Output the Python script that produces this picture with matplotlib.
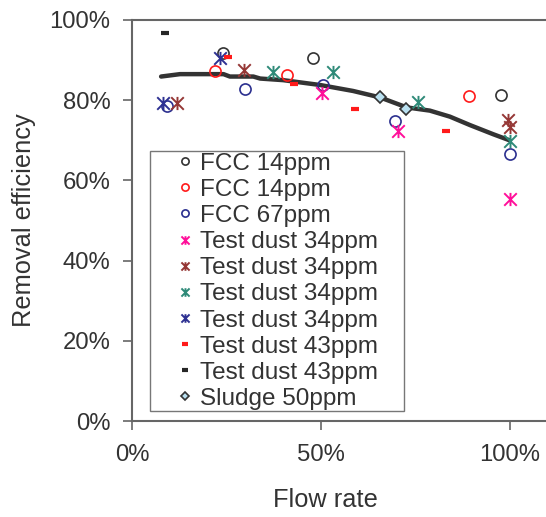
import numpy as np
import matplotlib.pyplot as plt
from matplotlib.path import Path
from matplotlib.ticker import PercentFormatter

plt.rcParams['font.family'] = ['Liberation Sans', 'DejaVu Sans']

# Dados (fracao de 0 a 1)
fcc14_preto_x = [0.240, 0.478, 0.976]
fcc14_preto_y = [0.918, 0.906, 0.812]
fcc14_verm_x = [0.220, 0.409, 0.891]
fcc14_verm_y = [0.873, 0.862, 0.811]
fcc67_x = [0.092, 0.299, 0.506, 0.696, 1.000]
fcc67_y = [0.786, 0.827, 0.838, 0.748, 0.666]

dust_rosa_x = [0.502, 0.705, 1.000]
dust_rosa_y = [0.817, 0.724, 0.554]
dust_marrom_x = [0.118, 0.296, 0.996, 1.000]
dust_marrom_y = [0.794, 0.875, 0.750, 0.733]
dust_verde_x = [0.374, 0.533, 0.756, 1.000]
dust_verde_y = [0.871, 0.870, 0.795, 0.699]
dust_azul_x = [0.083, 0.233]
dust_azul_y = [0.794, 0.904]

dust43_verm_x = [0.255, 0.429, 0.590, 0.832]
dust43_verm_y = [0.907, 0.840, 0.778, 0.722]
dust43_preto_x = [0.087]
dust43_preto_y = [0.967]

lodo_x = [0.656, 0.725]
lodo_y = [0.807, 0.778]

tendencia_x = [0.077, 0.127, 0.242, 0.259, 0.321, 0.339, 0.400, 0.497,
               0.585, 0.656, 0.727, 0.788, 0.841, 0.894, 0.956, 0.996]
tendencia_y = [0.859, 0.865, 0.865, 0.859, 0.859, 0.854, 0.850, 0.838,
               0.823, 0.807, 0.782, 0.774, 0.759, 0.738, 0.715, 0.701]

# marcador asterisco estilo Excel (vertical + X)
d = 0.95
asterisco = Path([(0, -1), (0, 1), (-d, -d), (d, d), (-d, d), (d, -d)],
                 [Path.MOVETO, Path.LINETO, Path.MOVETO, Path.LINETO,
                  Path.MOVETO, Path.LINETO])

cinza = '#333333'

fig = plt.figure(figsize=(5.46, 5.17), dpi=100)
ax = fig.add_axes([132 / 546, 1 - 421 / 517, 414 / 546, 401 / 517])

circ = dict(linestyle='none', marker='o', markersize=8, markerfacecolor='none', markeredgewidth=1.2)
ast = dict(linestyle='none', marker=asterisco, markersize=9.5, markerfacecolor='none', markeredgewidth=1.4)
tra = dict(linestyle='none', marker='_', markersize=6, markeredgewidth=3)

ax.plot(fcc14_preto_x, fcc14_preto_y, color=cinza, label='FCC 14ppm', **circ)
ax.plot(fcc14_verm_x, fcc14_verm_y, color='#ff1a1a', label='FCC 14ppm', **circ)
ax.plot(fcc67_x, fcc67_y, color='#2b2f8f', label='FCC 67ppm', **circ)
ax.plot(dust_rosa_x, dust_rosa_y, color='#ff0f9a', label='Test dust 34ppm', **ast)
ax.plot(dust_marrom_x, dust_marrom_y, color='#953735', label='Test dust 34ppm', **ast)
ax.plot(dust_verde_x, dust_verde_y, color='#2e8a78', label='Test dust 34ppm', **ast)
ax.plot(dust_azul_x, dust_azul_y, color='#2e3192', label='Test dust 34ppm', **ast)
ax.plot(dust43_verm_x, dust43_verm_y, color='#ff1a1a', label='Test dust 43ppm', **tra)
ax.plot(dust43_preto_x, dust43_preto_y, color='#262626', label='Test dust 43ppm', **tra)
ax.plot(lodo_x, lodo_y, linestyle='none', marker='D', markersize=6.5, markerfacecolor='#b9e0f0',
        markeredgecolor=cinza, markeredgewidth=1.2, label='Sludge 50ppm')
ax.plot(tendencia_x, tendencia_y, color=cinza, linewidth=3.2, solid_capstyle='round', zorder=1)

ax.set_xlim(0, 414 / 378)
ax.set_ylim(0, 1)
ax.set_xticks([0, 0.5, 1.0])
ax.set_yticks(np.arange(0, 1.01, 0.2))
ax.xaxis.set_major_formatter(PercentFormatter(1.0, decimals=0))
ax.yaxis.set_major_formatter(PercentFormatter(1.0, decimals=0))

for lado in ['left', 'bottom', 'top']:
    ax.spines[lado].set_color('#666666')
    ax.spines[lado].set_linewidth(1.5)
ax.spines['right'].set_visible(False)
ax.tick_params(axis='both', direction='out', length=6.5, width=1.2, color='#666666',
               labelsize=17.2, labelcolor=cinza)
ax.tick_params(axis='y', pad=9)
ax.tick_params(axis='x', pad=10)

ax.set_xlabel('Flow rate', fontsize=18.3, color=cinza)
ax.set_ylabel('Removal efficiency', fontsize=18.3, color=cinza)
ax.xaxis.set_label_coords((325 - 132) / 414, -(500 - 421) / 401, transform=ax.transAxes)
ax.yaxis.set_label_coords(-(132 - 24) / 414, 0.5, transform=ax.transAxes)
ax.xaxis.label.set_va('center')
ax.yaxis.label.set_va('center')

leg = ax.legend(loc='lower left', bbox_to_anchor=(0.0435, 0.0245, (404 - 150) / 414, 0.6),
                mode='expand', fontsize=17.5,
                markerscale=0.65, labelspacing=0.17, handlelength=2.8, handletextpad=-0.78,
                borderpad=0.05, frameon=True, fancybox=False, borderaxespad=0)
leg.get_frame().set_edgecolor('#555555')
leg.get_frame().set_linewidth(1.0)
for t in leg.get_texts():
    t.set_color(cinza)

plt.savefig('out.png', dpi=100)
